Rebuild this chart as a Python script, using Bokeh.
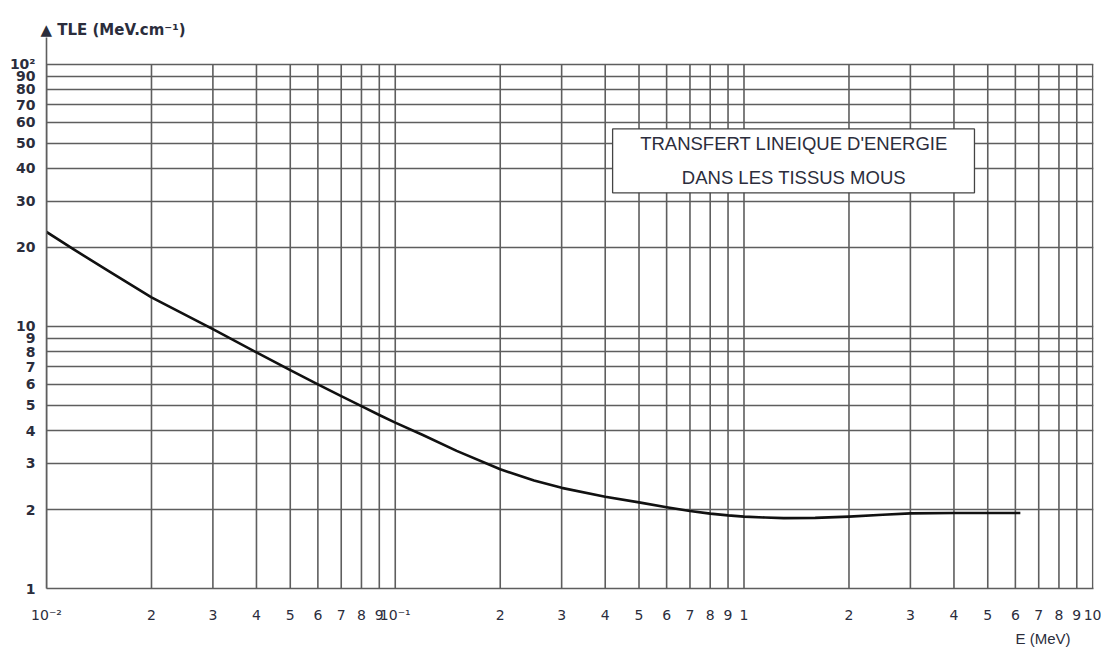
from bokeh.plotting import figure
from bokeh.models import FixedTicker, Label, BoxAnnotation, Title, Range1d
from bokeh.embed import file_html
from bokeh.resources import INLINE

# ---- data ----
energy = [0.01, 0.012, 0.015, 0.02, 0.03, 0.04, 0.05, 0.06, 0.07, 0.08, 0.09,
          0.1, 0.12, 0.15, 0.2, 0.25, 0.3, 0.4, 0.5, 0.6, 0.7, 0.8, 0.9,
          1.0, 1.15, 1.3, 1.6, 2.0, 2.5, 3.0, 4.0, 6.2]
tle = [22.9, 19.6, 16.3, 12.9, 9.75, 7.95, 6.8, 6.0, 5.42, 4.96, 4.59,
       4.29, 3.85, 3.35, 2.85, 2.58, 2.42, 2.24, 2.13, 2.04, 1.975, 1.93, 1.90,
       1.88, 1.865, 1.855, 1.86, 1.88, 1.91, 1.935, 1.94, 1.94]

x_ticks = [0.01, 0.02, 0.03, 0.04, 0.05, 0.06, 0.07, 0.08, 0.09,
           0.1, 0.2, 0.3, 0.4, 0.5, 0.6, 0.7, 0.8, 0.9,
           1, 2, 3, 4, 5, 6, 7, 8, 9, 10]
x_tick_labels = ["10\u207b\u00b2", "2", "3", "4", "5", "6", "7", "8", "9",
                 "10\u207b\u00b9", "2", "3", "4", "5", "6", "7", "8", "9",
                 "1", "2", "3", "4", "5", "6", "7", "8", "9", "10"]
y_ticks = [1, 2, 3, 4, 5, 6, 7, 8, 9, 10, 20, 30, 40, 50, 60, 70, 80, 90, 100]
y_tick_labels = ["1", "2", "3", "4", "5", "6", "7", "8", "9",
                 "10", "20", "30", "40", "50", "60", "70", "80", "90", "10\u00b2"]

y_axis_title = "\u25b2  TLE (MeV.cm\u207b\u00b9)"
x_axis_title = "E (MeV)"
box_lines = ["TRANSFERT LINEIQUE D'ENERGIE", "DANS LES TISSUS MOUS"]

FONT = "Liberation Sans"
TICKFONT = "DejaVu Sans"
GRID = "#5e5e5e"
TXT = "#2b2d3c"

p = figure(width=1101, height=648, x_axis_type="log", y_axis_type="log",
           x_range=Range1d(0.01, 10.05), y_range=Range1d(1, 126.3),
           output_backend="svg", toolbar_location=None,
           min_border_left=46, min_border_right=8, min_border_top=37,
           min_border_bottom=51, background_fill_color="white",
           border_fill_color="white")

p.outline_line_color = None

for ax, ticks, labels in ((p.xaxis[0], x_ticks, x_tick_labels),
                          (p.yaxis[0], y_ticks, y_tick_labels)):
    ax.ticker = FixedTicker(ticks=ticks, minor_ticks=[])
    ax.major_label_overrides = {t: l for t, l in zip(ticks, labels)}
    ax.major_tick_line_color = None
    ax.minor_tick_line_color = None
    ax.axis_line_color = GRID
    ax.axis_line_width = 1.6
    ax.major_label_text_font = TICKFONT
    ax.major_label_text_font_size = "14px"
    ax.major_label_text_color = TXT

p.xaxis.major_label_standoff = 12
p.yaxis.major_label_standoff = 5
p.yaxis.major_label_text_font_style = "bold"

# horizontal grid from Bokeh; vertical grid lines stop at the 10^2 line
p.xgrid.visible = False
p.ygrid.grid_line_color = GRID
p.ygrid.grid_line_width = 1.6
p.ygrid.grid_line_alpha = 1.0
n = len(x_ticks)
p.segment(x0=x_ticks, y0=[y_ticks[0]] * n, x1=x_ticks, y1=[y_ticks[-1]] * n,
          line_color=GRID, line_width=1.6)

p.line(energy, tle, line_color="#111111", line_width=2.6, line_join="round")

# text box
p.add_layout(BoxAnnotation(left=0.42, right=4.58, bottom=32.3, top=56.6,
                           fill_color="white", fill_alpha=1.0,
                           line_color="#444444", line_alpha=1.0,
                           line_width=1.3, level="annotation"))
for txt, yy in zip(box_lines, [49.9, 36.8]):
    p.add_layout(Label(x=1.39, y=yy, text=txt, text_align="center",
                       text_baseline="middle", text_font=FONT,
                       text_font_size="18.5px", text_color=TXT))

# axis titles
p.add_layout(Title(text=y_axis_title, align="left", offset=-6, standoff=-2,
                   text_font=TICKFONT, text_font_size="15px",
                   text_font_style="bold", text_color=TXT), "above")
p.add_layout(Title(text=x_axis_title, align="right", offset=23, standoff=4,
                   text_font=FONT, text_font_size="15px",
                   text_font_style="normal", text_color=TXT), "below")

open("out.html", "w").write(file_html(p, INLINE))
